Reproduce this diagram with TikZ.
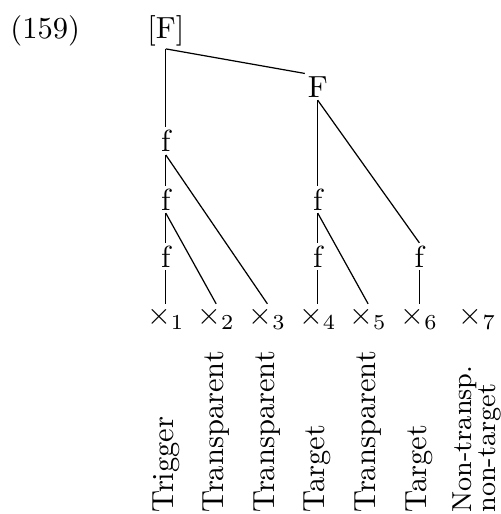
\documentclass[tikz,border=0pt]{standalone}
\usepackage{tikz}

\begin{document}
\begin{tikzpicture}[
		treenode/.style={anchor=base,inner sep=0.8pt},
		leafnode/.style={anchor=base,inner sep=0.8pt},
		labelnode/.style={rotate=90,anchor=west,inner sep=0pt}]
		\useasboundingbox (0,0) rectangle (5.76,-5.92);
		\node[anchor=base] (num) at (0.52,-0.44) {(159)};
		\node[treenode] (r) at (1.91,-0.44) {[F]};
		\node[treenode] (F) at (3.66,-1.12) {F};

		\node[treenode] (f1) at (1.91,-1.75) {f};
		\node[treenode] (f2) at (1.91,-2.42) {f};
		\node[treenode] (f3) at (1.91,-3.08) {f};
		\node[treenode] (f4) at (3.66,-2.42) {f};
		\node[treenode] (f5) at (3.66,-3.08) {f};
		\node[treenode] (f6) at (4.83,-3.08) {f};

		\node[leafnode] (x1) at (1.91,-3.74) {$\times_1$};
		\node[leafnode] (x2) at (2.49,-3.74) {$\times_2$};
		\node[leafnode] (x3) at (3.08,-3.74) {$\times_3$};
		\node[leafnode] (x4) at (3.66,-3.74) {$\times_4$};
		\node[leafnode] (x5) at (4.24,-3.74) {$\times_5$};
		\node[leafnode] (x6) at (4.83,-3.74) {$\times_6$};
		\node[leafnode] (x7) at (5.50,-3.74) {$\times_7$};

		\node[labelnode] (l1) at (1.91,-5.91) {Trigger};
		\node[labelnode] (l2) at (2.49,-5.91) {Transparent};
		\node[labelnode] (l3) at (3.08,-5.91) {Transparent};
		\node[labelnode] (l4) at (3.66,-5.91) {Target};
		\node[labelnode] (l5) at (4.24,-5.91) {Transparent};
		\node[labelnode] (l6) at (4.83,-5.91) {Target};
		\node[labelnode,align=left,font=\small] (l7) at (5.49,-5.91) {Non-transp.\\[-3pt]non-target};

		\draw (r.south) -- (f1.north);
		\draw (r.south) -- (F.north west);
		\draw (f1.south) -- (f2.north);
		\draw (f1.south) -- (x3.north);
		\draw (f2.south) -- (f3.north);
		\draw (f2.south) -- (x2.north);
		\draw (f3.south) -- (x1.north);
		\draw (F.south) -- (f4.north);
		\draw (F.south) -- (f6.north);
		\draw (f4.south) -- (f5.north);
		\draw (f4.south) -- (x5.north);
		\draw (f5.south) -- (x4.north);
		\draw (f6.south) -- (x6.north);
	\end{tikzpicture}
\end{document}
